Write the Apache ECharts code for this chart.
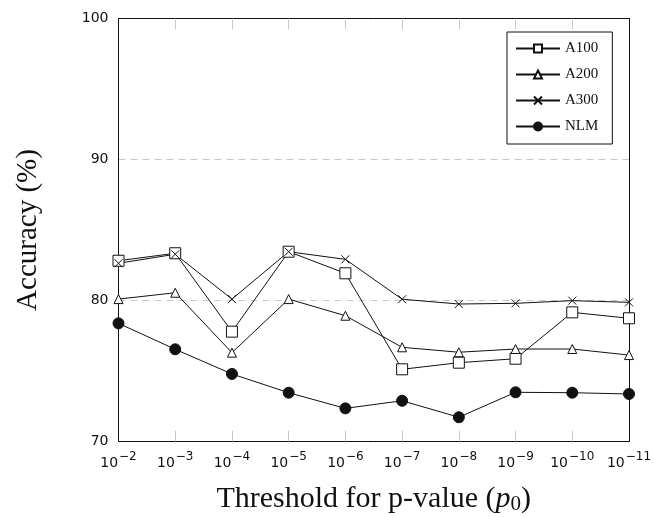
<!DOCTYPE html>
<html><head><meta charset="utf-8">
<script src="https://cdn.jsdelivr.net/npm/echarts@6/dist/echarts.min.js"></script>
<style>html,body{margin:0;padding:0;background:#fff}#c{width:654px;height:517px}</style>
</head><body><div id="c"></div>
<script>
const categories = ['-2','-3','-4','-5','-6','-7','-8','-9','-10','-11'];
const a100 = [82.82, 83.35, 77.79, 83.46, 81.93, 75.12, 75.59, 75.87, 79.16, 78.74];
const a200 = [80.1, 80.55, 76.3, 80.1, 78.92, 76.68, 76.33, 76.56, 76.56, 76.13];
const a300 = [82.64, 83.28, 80.1, 83.46, 82.92, 80.09, 79.75, 79.8, 79.99, 79.87];
const nlm = [78.38, 76.54, 74.79, 73.46, 72.35, 72.89, 71.72, 73.49, 73.46, 73.37];
const yTicks = [70, 80, 90, 100];

const chart = echarts.init(document.getElementById('c'), null, {renderer:'canvas'});
const lineStyle = {color:'#111', width:1};
const crossPath = 'path://M0,0L10,10M10,0L0,10';
function mk(name, data, symbol, size, fill){
  return {name, type:'line', data, symbol, symbolSize:size, showSymbol:true,
    lineStyle, itemStyle:{color:fill, borderColor:'#111', borderWidth:1}, animation:false, z:3};
}
chart.setOption({
  backgroundColor:'#fff',
  animation:false,
  grid:{left:118.5, right:25, top:18.5, bottom:75.5, show:false, containLabel:false, outerBoundsMode:'none'},
  legend:{orient:'vertical', left:507, top:32, backgroundColor:'#fff', borderColor:'#111', borderWidth:1,
    padding:[9,14,10,8], itemWidth:44, itemHeight:10, itemGap:11,
    textStyle:{fontFamily:'Liberation Serif', fontSize:15, color:'#111'},
    data:['A100','A200','A300','NLM']},
  xAxis:[{type:'category', data:categories, boundaryGap:false, z:1,
    axisLine:{lineStyle:{color:'#111', width:1}},
    axisTick:{inside:true, length:11, lineStyle:{color:'#c8c8c8'}},
    axisLabel:{margin:9, interval:0, hideOverlap:false, formatter:v=>'{b|10}{s|'+v.replace('-','−')+'}',
      rich:{b:{fontFamily:'DejaVu Sans', fontSize:14, color:'#111', verticalAlign:'bottom', lineHeight:20},
            s:{fontFamily:'DejaVu Sans', fontSize:12, color:'#111', verticalAlign:'top', lineHeight:20, padding:[0,0,0,1]}}},
    name:'{n|Threshold for p-value (}{i|p}{sub|0}{n|)}', nameLocation:'middle', nameGap:41,
    nameTextStyle:{rich:{n:{fontFamily:'Liberation Serif', fontSize:30, color:'#111', verticalAlign:'bottom', lineHeight:32},
      i:{fontFamily:'Liberation Serif', fontStyle:'italic', fontSize:30, color:'#111', verticalAlign:'bottom', lineHeight:32},
      sub:{fontFamily:'Liberation Serif', fontSize:21, color:'#111', verticalAlign:'bottom', lineHeight:24}}}},
    {type:'category', data:categories, boundaryGap:false, position:'top', z:1,
    axisLine:{show:true, lineStyle:{color:'#111', width:1}}, axisLabel:{show:false},
    axisTick:{inside:true, length:11, lineStyle:{color:'#c8c8c8'}}}],
  yAxis:[{type:'value', min:yTicks[0], max:yTicks[yTicks.length-1], interval:10, z:2,
    axisLine:{show:true, lineStyle:{color:'#111'}}, axisTick:{show:false},
    axisLabel:{margin:10, fontFamily:'DejaVu Sans', fontSize:14, color:'#111'},
    splitLine:{show:true, showMinLine:false, showMaxLine:false, lineStyle:{color:'#c8c8c8', type:[7,5], width:1}},
    name:'Accuracy (%)', nameLocation:'middle', nameGap:76,
    nameTextStyle:{fontFamily:'Liberation Serif', fontSize:29, color:'#111'}},
    {type:'value', position:'right', min:yTicks[0], max:yTicks[yTicks.length-1], interval:10, z:2,
    axisLine:{show:true, lineStyle:{color:'#111'}}, axisTick:{show:false}, axisLabel:{show:false}, splitLine:{show:false}}],
  series:[
    mk('A100', a100, 'rect', 11, '#fff'),
    mk('A200', a200, 'triangle', 9, '#fff'),
    mk('A300', a300, crossPath, 8, '#fff'),
    mk('NLM', nlm, 'circle', 11, '#111')
  ]
});
</script></body></html>
